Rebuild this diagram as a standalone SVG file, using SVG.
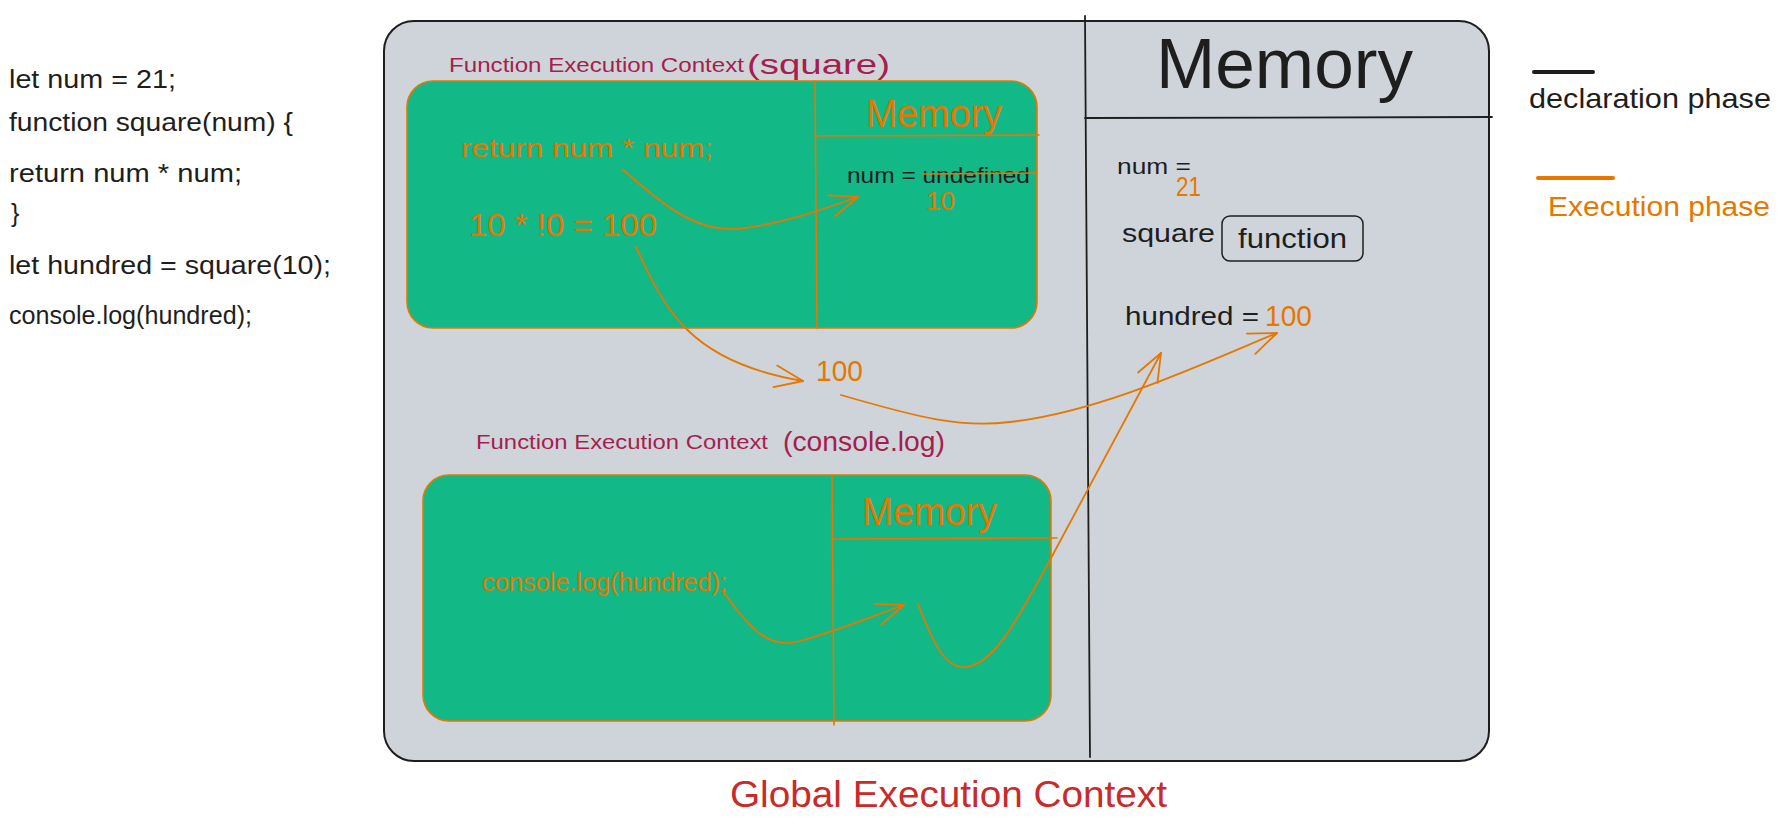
<svg xmlns="http://www.w3.org/2000/svg" width="1782" height="826" viewBox="0 0 1782 826">
<style>
text { font-family: "Liberation Sans", Arial, sans-serif; }
.blk { fill: #1e1e1e; }
.org { fill: #e67700; }
.pur { fill: #a61e4d; }
.red { fill: #c92a2a; }
.ln { fill: none; stroke: #1e1e1e; stroke-width: 1.8; stroke-linecap: round; }
.ol { fill: none; stroke: #e67700; stroke-width: 1.6; stroke-linecap: round; }
.arr { fill: none; stroke: #e67700; stroke-width: 1.8; stroke-linecap: round; marker-end: url(#head); }
.green { fill: #12b886; stroke: #e67700; stroke-width: 1.6; }
</style>
<defs>
<marker id="head" viewBox="-32 -16 34 32" refX="0" refY="0" markerWidth="34" markerHeight="32" markerUnits="userSpaceOnUse" orient="auto">
<path d="M-28,-11 L0,0 L-28,11" fill="none" stroke="#e67700" stroke-width="1.8" stroke-linecap="round" stroke-linejoin="round"/>
</marker>
</defs>
<rect width="1782" height="826" fill="#ffffff"/>

<g id="code">
<text class="blk" x="9" y="88" font-size="25" textLength="167" lengthAdjust="spacingAndGlyphs">let num = 21;</text>
<text class="blk" x="9" y="131" font-size="25" textLength="284" lengthAdjust="spacingAndGlyphs">function square(num) {</text>
<text class="blk" x="9" y="182" font-size="25" textLength="233" lengthAdjust="spacingAndGlyphs">return num * num;</text>
<text class="blk" x="11" y="222" font-size="25">}</text>
<text class="blk" x="9" y="274" font-size="25" textLength="322" lengthAdjust="spacingAndGlyphs">let hundred = square(10);</text>
<text class="blk" x="9" y="324" font-size="25" textLength="243" lengthAdjust="spacingAndGlyphs">console.log(hundred);</text>
</g>

<g id="global-context">
<rect x="384" y="21" width="1105" height="740" rx="30" fill="#ced4da" stroke="#1e1e1e" stroke-width="2"/>
<line class="ln" x1="1085" y1="16" x2="1090" y2="757"/>
<line class="ln" x1="1085" y1="118" x2="1492" y2="117"/>
<text class="red" x="730" y="807" font-size="36" textLength="437" lengthAdjust="spacingAndGlyphs">Global Execution Context</text>
</g>

<g id="global-memory">
<text class="blk" x="1156" y="88" font-size="70" textLength="257" lengthAdjust="spacingAndGlyphs">Memory</text>
<text class="blk" x="1117" y="174" font-size="22" textLength="74" lengthAdjust="spacingAndGlyphs">num =</text>
<text class="org" x="1176" y="196" font-size="28" textLength="25" lengthAdjust="spacingAndGlyphs">21</text>
<text class="blk" x="1122" y="242" font-size="26" textLength="93" lengthAdjust="spacingAndGlyphs">square</text>
<rect x="1222" y="216" width="141" height="45" rx="8" fill="none" stroke="#1e1e1e" stroke-width="1.5"/>
<text class="blk" x="1238" y="248" font-size="28" textLength="109" lengthAdjust="spacingAndGlyphs">function</text>
<text class="blk" x="1125" y="325" font-size="26" textLength="134" lengthAdjust="spacingAndGlyphs">hundred =</text>
<text class="org" x="1265" y="326" font-size="30" textLength="47" lengthAdjust="spacingAndGlyphs">100</text>
</g>

<g id="legend">
<line x1="1534" y1="72" x2="1593" y2="72" stroke="#1e1e1e" stroke-width="4" stroke-linecap="round"/>
<text class="blk" x="1529" y="108" font-size="28" textLength="242" lengthAdjust="spacingAndGlyphs">declaration phase</text>
<line x1="1538" y1="178" x2="1613" y2="178" stroke="#e67700" stroke-width="4" stroke-linecap="round"/>
<text class="org" x="1548" y="216" font-size="28" textLength="222" lengthAdjust="spacingAndGlyphs">Execution phase</text>
</g>

<g id="fec-square">
<text class="pur" x="449" y="72" font-size="20" textLength="295" lengthAdjust="spacingAndGlyphs">Function Execution Context</text>
<text class="pur" x="747" y="74" font-size="28" textLength="143" lengthAdjust="spacingAndGlyphs">(square)</text>
<rect class="green" x="407" y="81" width="630" height="247" rx="26"/>
<line class="ol" x1="815" y1="81" x2="817" y2="328"/>
<line class="ol" x1="815" y1="136" x2="1039" y2="135"/>
<text class="org" x="866" y="127" font-size="38" textLength="136" lengthAdjust="spacingAndGlyphs">Memory</text>
<text class="org" x="461" y="157" font-size="26" textLength="252" lengthAdjust="spacingAndGlyphs">return num * num;</text>
<text class="org" x="469" y="236" font-size="32" textLength="188" lengthAdjust="spacingAndGlyphs">10 * !0 = 100</text>
<text class="blk" x="847" y="183" font-size="22" textLength="183" lengthAdjust="spacingAndGlyphs">num = undefined</text>
<line class="ol" x1="923" y1="174" x2="1037" y2="173"/>
<text class="org" x="926" y="210" font-size="26" textLength="29" lengthAdjust="spacingAndGlyphs">10</text>
</g>

<g id="value-100">
<text class="org" x="816" y="381" font-size="30" textLength="47" lengthAdjust="spacingAndGlyphs">100</text>
</g>

<g id="fec-console">
<text class="pur" x="476" y="449" font-size="20" textLength="292" lengthAdjust="spacingAndGlyphs">Function Execution Context</text>
<text class="pur" x="783" y="451" font-size="28" textLength="162" lengthAdjust="spacingAndGlyphs">(console.log)</text>
<rect class="green" x="423" y="475" width="628" height="246" rx="26"/>
<line class="ol" x1="832" y1="475" x2="834" y2="725"/>
<line class="ol" x1="832" y1="539" x2="1057" y2="538"/>
<text class="org" x="862" y="525" font-size="38" textLength="135" lengthAdjust="spacingAndGlyphs">Memory</text>
<text class="org" x="482" y="591" font-size="26" textLength="245" lengthAdjust="spacingAndGlyphs">console.log(hundred);</text>
</g>

<g id="connectors">
<path class="arr" d="M623,170 C670,210 700,235 745,228 C790,222 825,208 858,197"/>
<path class="arr" d="M636,247 C665,310 690,362 803,381"/>
<path class="arr" d="M841,395 C920,418 960,428 1010,422 C1100,412 1200,365 1277,333"/>
<path class="arr" d="M723,591 C750,630 770,650 800,641 C840,630 870,617 904,605"/>
<path class="arr" d="M918,604 C932,640 945,670 966,667 C992,664 1012,630 1050,560 L1161,353"/>
</g>
</svg>
